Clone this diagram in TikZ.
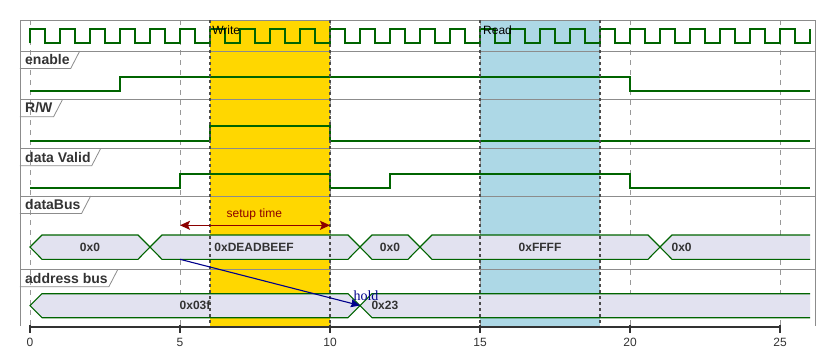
\documentclass[tikz,border=0pt]{standalone}
\usepackage{fontspec}
\setmainfont{Liberation Sans}
\newfontfamily\holdserif{Liberation Serif}
\usepackage{xcolor}
\definecolor{waveGreen}{HTML}{006400}
\definecolor{busFill}{HTML}{E2E2F0}
\definecolor{colWrite}{HTML}{FFD700}
\definecolor{colRead}{HTML}{ADD8E6}
\definecolor{colSetup}{HTML}{8B0000}
\definecolor{colHold}{HTML}{00008B}
\definecolor{frameGray}{HTML}{8C8C8C}
\definecolor{txtGray}{HTML}{333333}
\usepackage{tikz}
\usetikzlibrary{arrows.meta, positioning, calc}
\tikzset{
	wave/.style={draw=waveGreen, line width=1.8pt, line join=miter},
	busbox/.style={draw=waveGreen, fill=busFill, line width=1.1pt},
	bustxt/.style={font=\fontsize{12}{14}\selectfont\bfseries, text=txtGray, inner sep=0pt},
	rowlbl/.style={anchor=north west, font=\fontsize{14}{16}\selectfont\bfseries, text=txtGray, inner xsep=0pt, inner ysep=0pt, minimum height=17pt},
	tabline/.style={draw=frameGray, line width=0.8pt},
	gridline/.style={draw=gray!80, line width=0.7pt, dash pattern=on 5pt off 5pt},
	regionline/.style={draw=black!70, line width=1.8pt, dash pattern=on 3pt off 3pt},
	regionlbl/.style={anchor=west, font=\fontsize{12}{14}\selectfont, inner sep=0pt},
	ticklbl/.style={font=\fontsize{12}{14}\selectfont, text=txtGray, inner sep=0pt},
}

\begin{document}
\begin{tikzpicture}[
		x=30pt, y=-1pt, xshift=30pt,
		setuparr/.style={draw=colSetup, line width=1.3pt, {Stealth[length=10pt,width=9pt,inset=2pt]}-{Stealth[length=10pt,width=9pt,inset=2pt]}},
		holdarr/.style={draw=colHold, line width=1.1pt, -{Stealth[length=9pt,width=8pt,inset=1pt]}},
	]
	\useasboundingbox (-1,0) rectangle (26.8333,360);

	% highlighted regions
	\fill[colWrite] (6,20) rectangle (10,327);
	\fill[colRead] (15,20) rectangle (19,327);

	% grid
	\foreach \t in {0,5,...,25}
		\draw[gridline] (\t,20) -- (\t,327);

	% frame and row separators
	\draw[frameGray, line width=0.8pt] (-0.3333,326) -- (-0.3333,20) -- (26.19,20) -- (26.19,326);
	\foreach \y in {51,99.3,148.3,196,269.3}
		\draw[frameGray, line width=0.8pt] (-0.3333,\y) -- (26.19,\y);

	% row labels
	\node[rowlbl] (lblEnable) at (-0.1667,51) {enable};
	\node[rowlbl] (lblRW) at (-0.1667,99.3) {R/W};
	\node[rowlbl] (lblValid) at (-0.1667,148.3) {data Valid};
	\node[rowlbl] (lblData) at (-0.1667,196) {dataBus};
	\node[rowlbl] (lblAddr) at (-0.1667,269.3) {address bus};
	\foreach \n in {lblEnable,lblRW,lblValid,lblData,lblAddr}
		\draw[tabline] ([xshift=-5pt]\n.south west) -- ([xshift=1pt]\n.south east) -- ([xshift=10pt]\n.north east);

	% clock
	\draw[wave] (0,43.3) foreach \t in {0,...,25} { -- (\t,29.3) -- (\t+0.5,29.3) -- (\t+0.5,43.3) -- (\t+1,43.3) } -- (26,29.3);

	% enable, R/W, data Valid
	\draw[wave] (0,90.7) -- (3,90.7) -- (3,77.3) -- (20,77.3) -- (20,90.7) -- (26,90.7);
	\draw[wave] (0,140.7) -- (6,140.7) -- (6,126) -- (10,126) -- (10,140.7) -- (26,140.7);
	\draw[wave] (0,188.3) -- (5,188.3) -- (5,174.3) -- (10,174.3) -- (10,188.3) -- (12,188.3) -- (12,174.3) -- (20,174.3) -- (20,188.3) -- (26,188.3);

	% dataBus
	\foreach \a/\b in {0/4,4/11,11/13,13/21}
		\filldraw[busbox] (\a,247) -- (\a+0.4,235) -- (\b-0.4,235) -- (\b,247) -- (\b-0.4,259.3) -- (\a+0.4,259.3) -- cycle;
	\fill[busFill] (21,247) -- (21.4,235) -- (26,235) -- (26,259.3) -- (21.4,259.3) -- cycle;
	\draw[busbox, fill=none] (26,235) -- (21.4,235) -- (21,247) -- (21.4,259.3) -- (26,259.3);
	\node[bustxt] (dat0) at (2,247) {0x0};
	\node[bustxt] (dat1) at (7.47,247) {0xDEADBEEF};
	\node[bustxt] (dat2) at (12,247) {0x0};
	\node[bustxt] (dat3) at (17,247) {0xFFFF};
	\node[bustxt] (dat4) at (21.72,247) {0x0};

	% address bus
	\filldraw[busbox] (0,305.7) -- (0.4,293.7) -- (10.6,293.7) -- (11,305.7) -- (10.6,317.7) -- (0.4,317.7) -- cycle;
	\fill[busFill] (11,305.7) -- (11.4,293.7) -- (26,293.7) -- (26,317.7) -- (11.4,317.7) -- cycle;
	\draw[busbox, fill=none] (26,293.7) -- (11.4,293.7) -- (11,305.7) -- (11.4,317.7) -- (26,317.7);
	\node[bustxt] (adr0) at (5.5,305.7) {0x03f};
	\node[bustxt] (adr1) at (11.83,305.7) {0x23};

	% region borders
	\foreach \t in {6,10,15,19}
		\draw[regionline] (\t,20) -- (\t,327);
	\node[regionlbl] (lblWrite) at (6.07,30) {Write};
	\node[regionlbl] (lblRead) at (15.1,30) {Read};

	% setup time
	\coordinate (setupL) at (5,225.3);
	\coordinate (setupR) at (10,225.3);
	\draw[setuparr] (setupL) -- (setupR);
	\node[font=\fontsize{12}{14}\selectfont, text=colSetup, inner sep=0pt] (lblSetup) at (7.48,214) {setup time};

	% hold
	\coordinate (holdA) at (5,259.3);
	\coordinate (holdB) at (11,305.5);
	\draw[holdarr] (holdA) -- (holdB);
	\node[font=\holdserif\fontsize{14}{16}\selectfont, text=colHold, inner sep=0pt] (lblHold) at (11.2,296) {hold};

	% time axis
	\draw[txtGray, line width=2pt] (0,327.3) -- (25,327.3);
	\foreach \t in {0,5,...,25} {
		\draw[txtGray, line width=1.5pt] (\t,324.5) -- (\t,333);
		\node[ticklbl] (tick\t) at (\t,342) {\t};
	}
\end{tikzpicture}
\end{document}
